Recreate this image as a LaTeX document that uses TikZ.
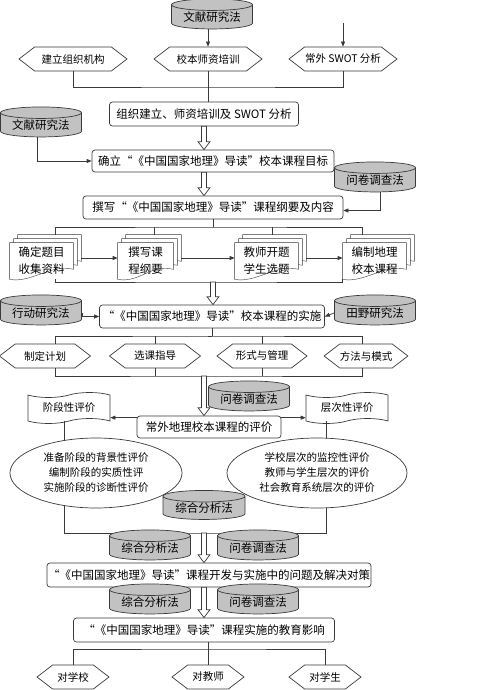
\documentclass[tikz,border=0pt]{standalone}
\usepackage{fontspec}
\setmainfont{Noto Sans CJK SC}
\usetikzlibrary{arrows.meta,calc,backgrounds,shapes.geometric,shapes.symbols}
\definecolor{ink}{HTML}{3A3A3A}
\definecolor{drum}{HTML}{C2C2C2}
\tikzset{
  stage/.style={draw=ink,rounded corners=3pt,fill=white,inner sep=0pt,
    font=\fontsize{11.5}{13}\selectfont,minimum height=23},
  method/.style={cylinder,shape border rotate=90,aspect=0.2,draw=ink,fill=drum,
    minimum width=81,minimum height=30,inner sep=0pt,font=\fontsize{11.5}{13}\selectfont},
  task/.style={signal,signal to=west and east,signal pointer angle=75,draw=ink,fill=white,
    minimum height=24,inner sep=0pt,font=\fontsize{10.5}{12}\selectfont},
  docnode/.style={align=left,minimum height=36,inner sep=0pt,font=\fontsize{11.5}{17}\selectfont},
  page/.style={draw=ink,fill=white},
  flag/.style={tape,draw=ink,fill=white,minimum width=82,minimum height=31,tape bend height=5,
    inner sep=0pt,font=\fontsize{10.5}{12}\selectfont},
  oval/.style={ellipse,draw=ink,fill=white,minimum height=70,inner sep=0pt,align=center,
    font=\fontsize{10.5}{15}\selectfont},
  link/.style={draw=ink},
  arr/.style={link,-{Triangle[length=5pt,width=4pt]}},
  hollow/.style={draw=ink,fill=white,
    to path={let \p1=(\tikztostart),\p2=(\tikztotarget) in
      (\x1-2.5pt,\y1) -- (\x1-2.5pt,\y2+8pt) -- (\x1-6pt,\y2+8pt) -- (\x1,\y2)
      -- (\x1+6pt,\y2+8pt) -- (\x1+2.5pt,\y2+8pt) -- (\x1+2.5pt,\y1) -- cycle}},
}
% three stacked pages behind a document node
\newcommand{\pagestack}[1]{%
  \begin{scope}[on background layer]
    \foreach \sh in {8,4,0}{
      \draw[page] ([xshift=\sh,yshift=\sh]#1.north west) -- ([xshift=\sh,yshift=\sh]#1.north east)
        -- ([xshift=\sh,yshift=\sh+10]#1.south east)
        .. controls ([xshift=\sh-22,yshift=\sh+16]#1.south east) and ([xshift=\sh+22,yshift=\sh-4]#1.south west)
        .. ([xshift=\sh,yshift=\sh]#1.south west) -- cycle;
    }
  \end{scope}}

\begin{document}
\begin{tikzpicture}[x=1pt,y=-1pt,line width=0.7pt]
  \useasboundingbox (0,0) rectangle (481,690);
  % preparation
  \node[method] (mTop) at (212,17) {文献研究法};
  \node[task,minimum width=108] (hOrg) at (73,59) {建立组织机构};
  \node[task,minimum width=108] (hTrain) at (208,59) {校本师资培训};
  \node[task,minimum width=108] (hSwot) at (343,59) {常外 SWOT 分析};
  \coordinate (cSwot) at (343,23);
  \coordinate (jPrep) at (208,87);
  \node[stage,minimum width=189,minimum height=24] (sPrep) at (204,114) {组织建立、师资培训及 SWOT 分析};
  \draw[arr] (hTrain.north |- mTop.south) -- (hTrain.north);
  \draw[arr] (cSwot) -- (hSwot.north);
  \draw[link] (hOrg.south) |- (jPrep) -| (hSwot.south);
  \draw[link] (hTrain.south) -- (hTrain.south |- sPrep.north);
  % goal and outline
  \node[method] (mLit) at (41,125) {文献研究法};
  \node[stage,minimum width=242,minimum height=22] (sGoal) at (213,161) {确立“《中国国家地理》导读”校本课程目标};
  \node[method] (mSurvA) at (375,180) {问卷调查法};
  \node[stage,minimum width=260] (sOutl) at (213,207.5) {撰写“《中国国家地理》导读”课程纲要及内容};
  \draw[hollow] (sPrep.south) to (sPrep.south |- sGoal.north);
  \draw[hollow] (sPrep.south |- sGoal.south) to (sPrep.south |- sOutl.north);
  \draw[arr] ([xshift=-4]mLit.south) |- (sGoal.west);
  \draw[arr] ([xshift=5]mSurvA.south) |- ([yshift=-3]sOutl.east);
  % documents
  \node[docnode,minimum width=63] (dTopic) at (41.5,261) {确定题目\\收集资料};
  \node[docnode,minimum width=55] (dOutl) at (145.5,261) {撰写课\\程纲要};
  \node[docnode,minimum width=63] (dOpen) at (266.5,261) {教师开题\\学生选题};
  \node[docnode,minimum width=63] (dComp) at (374.5,261) {编制地理\\校本课程};
  \pagestack{dTopic}
  \pagestack{dOutl}
  \pagestack{dOpen}
  \pagestack{dComp}
  \coordinate (jOutl) at (213,227);
  \coordinate (jDocs) at (213,282);
  \draw[link] (sOutl.south) -- (jOutl);
  \draw[link] ([xshift=13.5,yshift=8]dTopic.north) |- (jOutl) -| ([xshift=-12.5,yshift=8]dComp.north);
  \draw[link] ([xshift=8.5,yshift=8]dOutl.north) -- ++(0,-8);
  \draw[link] ([xshift=5.5,yshift=8]dOpen.north) -- ++(0,-8);
  \draw[arr] ([xshift=8,yshift=3]dTopic.east) -- ([yshift=3]dOutl.west);
  \draw[arr] ([xshift=8,yshift=3]dOutl.east) -- ([yshift=3]dOpen.west);
  \draw[arr] ([xshift=8,yshift=3]dOpen.east) -- ([yshift=3]dComp.west);
  \draw[link] ([xshift=13.5]dTopic.south) |- (jDocs) -| (dComp.south west);
  % implementation
  \node[method] (mAct) at (41,313) {行动研究法};
  \node[method] (mField) at (375,313) {田野研究法};
  \node[stage,minimum width=225] (sImpl) at (212,316.5) {“《中国国家地理》导读”校本课程的实施};
  \draw[hollow] (jDocs) to (jDocs |- sImpl.north);
  \draw[arr] (mAct.east) -- (sImpl.west -| mAct.east) -- (sImpl.west);
  \draw[arr] (mField.west) -- (sImpl.east);
  \node[task,minimum width=91] (hPlan) at (45,356) {制定计划};
  \node[task,minimum width=91] (hGuide) at (155,356) {选课指导};
  \node[task,minimum width=90] (hForm) at (262,356) {形式与管理};
  \node[task,minimum width=81] (hMode) at (366,356) {方法与模式};
  \coordinate (jImpl) at (208,336);
  \coordinate (jHex) at (204,376);
  \draw[link] (jImpl -| sImpl.south) -- (sImpl.south);
  \draw[link] ([xshift=10]hPlan.north) |- (jImpl) -| ([xshift=-4]hMode.north);
  \draw[link] (jImpl -| sImpl.south) -- (jImpl);
  \draw[link] (hGuide.north) -- (hGuide.north |- jImpl);
  \draw[link] (hForm.north) -- (hForm.north |- jImpl);
  \draw[link] ([xshift=10]hPlan.south) |- (jHex) -| ([xshift=-4]hMode.south);
  \draw[link] (hGuide.south) -- (hGuide.south |- jHex);
  \draw[link] (hForm.south) -- (hForm.south |- jHex);
  % evaluation
  \node[flag] (tStage) at (69,408) {阶段性评价};
  \node[flag] (tLevel) at (347,408) {层次性评价};
  \node[method] (mSurvB) at (249,399) {问卷调查法};
  \node[stage,minimum width=144,minimum height=22] (sEval) at (209,427) {常外地理校本课程的评价};
  \draw[hollow] (jHex) to (jHex |- sEval.north);
  \draw[arr] ([yshift=-2]sEval.north west) -- ([yshift=-2]sEval.north west -| tStage.east);
  \draw[arr] ([yshift=-2]sEval.north east) -- ([yshift=-2]sEval.north east -| tLevel.west);
  \coordinate (jEval) at (204,533);
  \draw[link] ([xshift=-5]tStage.south) |- (jEval) -| ([xshift=-21]tLevel.south);
  \node[oval,minimum width=172] (eStage) at (96,473) {准备阶段的背景性评价\\编制阶段的实质性评\\实施阶段的诊断性评价};
  \node[oval,minimum width=180] (eLevel) at (317,473) {学校层次的监控性评价\\教师与学生层次的评价\\社会教育系统层次的评价};
  \node[method,minimum width=82,minimum height=29] (mSyn) at (204,508) {综合分析法};
  % problems and effects
  \node[method] (mSynA) at (150,548) {综合分析法};
  \node[method] (mSurvC) at (258,548) {问卷调查法};
  \node[stage,minimum width=324,minimum height=24] (sProb) at (209,575) {“《中国国家地理》导读”课程开发与实施中的问题及解决对策};
  \node[method] (mSynB) at (150,602) {综合分析法};
  \node[method] (mSurvD) at (258,602) {问卷调查法};
  \node[stage,minimum width=261,minimum height=24] (sEff) at (204,630) {“《中国国家地理》导读”课程实施的教育影响};
  \draw[hollow] (jEval) to (jEval |- sProb.north);
  \draw[hollow] (jEval |- sProb.south) to (jEval |- sEff.north);
  \node[task,minimum width=72] (hSch) at (73,677) {对学校};
  \node[task,minimum width=72] (hTea) at (208,677) {对教师};
  \node[task,minimum width=72] (hStu) at (325,677) {对学生};
  \coordinate (jEff) at (208,649);
  \draw[link] (hTea.north) -- (hTea.north |- sEff.south);
  \draw[link] (hSch.north) |- (jEff) -| (hStu.north);
\end{tikzpicture}
\end{document}
